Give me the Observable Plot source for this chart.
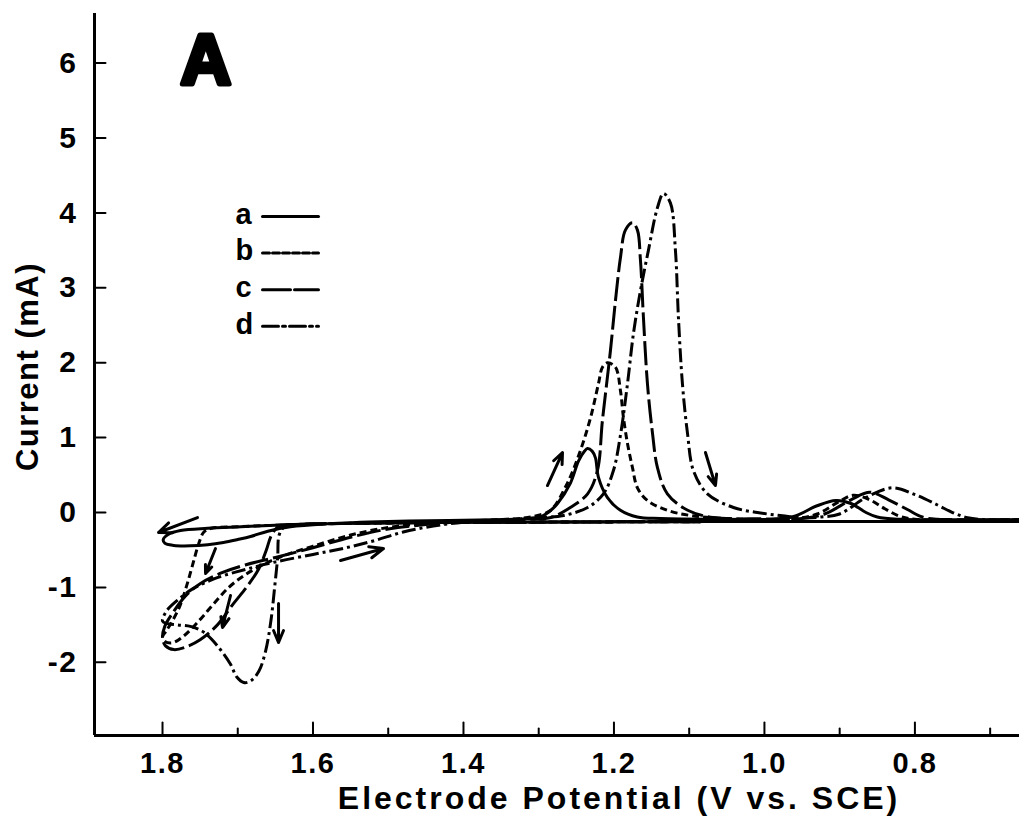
<!DOCTYPE html>
<html><head><meta charset="utf-8">
<script src="https://cdn.jsdelivr.net/npm/d3@7"></script>
<script src="https://cdn.jsdelivr.net/npm/@observablehq/plot@0.6"></script>
<style>
body{margin:0;background:#fff;}
svg text{font-family:"Liberation Sans",Arial,sans-serif;}
</style></head><body><div id="chart"></div>
<script>
// ---- data (V vs. SCE, mA) ----
const seriesKeys = ["a","b","c","d"];

const curveA = [
 [0.661,-0.12],[0.8,-0.12],[1.0,-0.12],[1.2,-0.125],[1.35,-0.13],[1.45,-0.135],[1.55,-0.145],[1.607,-0.155],[1.65,-0.17],[1.696,-0.19],[1.74,-0.21],[1.776,-0.24],[1.792,-0.29],[1.799,-0.36],
 [1.797,-0.41],[1.785,-0.44],[1.763,-0.445],[1.74,-0.43],[1.719,-0.40],[1.70,-0.36],[1.683,-0.32],[1.66,-0.25],[1.63,-0.19],[1.58,-0.15],[1.5,-0.12],[1.42,-0.105],[1.36,-0.095],[1.32,-0.085],[1.298,-0.06],[1.285,0.02],[1.275,0.12],[1.258,0.39],[1.247,0.69],[1.239,0.82],[1.2352,0.854],[1.229,0.82],[1.2246,0.73],[1.2206,0.47],[1.2086,0.2],[1.1914,0.03],[1.169,-0.06],[1.138,-0.08],[1.05,-0.09],[0.99,-0.09],[0.96,-0.05],[0.93,0.09],[0.905,0.16],[0.885,0.12],[0.865,0.0],[0.85,-0.06],[0.82,-0.09],[0.75,-0.095],[0.661,-0.095]
];
const curveB = [
 [0.661,-0.12],[0.8,-0.12],[1.0,-0.12],[1.2,-0.125],[1.35,-0.13],[1.45,-0.135],[1.55,-0.145],[1.65,-0.17],[1.70,-0.19],[1.735,-0.21],[1.745,-0.26],[1.752,-0.42],[1.76,-0.7],[1.768,-0.98],[1.777,-1.25],[1.787,-1.45],[1.795,-1.58],[1.8,-1.66],
 [1.797,-1.72],[1.787,-1.74],[1.772,-1.65],[1.752,-1.45],[1.732,-1.22],[1.712,-1.0],[1.69,-0.83],[1.665,-0.69],[1.64,-0.58],[1.60,-0.45],[1.55,-0.3],[1.5,-0.2],[1.45,-0.145],[1.4,-0.115],[1.35,-0.095],[1.32,-0.075],[1.30,-0.035],[1.284,0.03],[1.262,0.39],[1.2445,0.83],[1.231,1.27],[1.2206,1.72],[1.2153,1.94],[1.2086,2.0],[1.198,1.94],[1.1914,1.63],[1.1874,1.27],[1.182,0.92],[1.1754,0.6],[1.1688,0.33],[1.1555,0.16],[1.129,0.03],[1.098,-0.04],[1.05,-0.08],[0.97,-0.09],[0.93,-0.02],[0.90,0.15],[0.882,0.23],[0.86,0.17],[0.84,0.05],[0.82,-0.05],[0.80,-0.09],[0.661,-0.095]
];
const curveC = [
 [0.661,-0.12],[0.8,-0.12],[1.0,-0.12],[1.2,-0.125],[1.35,-0.13],[1.45,-0.135],[1.55,-0.145],[1.62,-0.16],[1.645,-0.18],[1.655,-0.3],[1.662,-0.5],[1.672,-0.75],[1.687,-0.98],[1.706,-1.22],[1.727,-1.5],[1.75,-1.7],[1.77,-1.8],[1.785,-1.83],[1.796,-1.78],[1.8,-1.68],
 [1.797,-1.52],[1.785,-1.32],[1.77,-1.12],[1.75,-0.95],[1.72,-0.8],[1.69,-0.7],[1.65,-0.6],[1.6,-0.47],[1.55,-0.33],[1.5,-0.22],[1.45,-0.16],[1.4,-0.12],[1.35,-0.1],[1.31,-0.085],[1.284,-0.067],[1.258,0.067],[1.235,0.25],[1.222,0.56],[1.2153,1.23],[1.2047,2.16],[1.198,2.83],[1.1914,3.4],[1.1848,3.77],[1.1754,3.87],[1.1688,3.77],[1.1648,3.37],[1.1608,2.6],[1.1555,1.72],[1.1488,1.06],[1.1422,0.6],[1.129,0.25],[1.102,0.03],[1.068,-0.067],[1.0,-0.085],[0.96,-0.09],[0.92,-0.02],[0.885,0.17],[0.86,0.27],[0.835,0.17],[0.81,0.04],[0.79,-0.06],[0.77,-0.09],[0.661,-0.095]
];
const curveD = [
 [0.661,-0.12],[0.8,-0.12],[1.0,-0.12],[1.2,-0.125],[1.35,-0.13],[1.45,-0.135],[1.55,-0.145],[1.62,-0.16],[1.638,-0.19],[1.645,-0.3],[1.647,-0.6],[1.651,-1.0],[1.656,-1.45],[1.663,-1.85],[1.672,-2.12],[1.683,-2.25],[1.692,-2.27],[1.701,-2.2],[1.71,-2.02],[1.727,-1.78],[1.745,-1.6],[1.763,-1.52],[1.78,-1.5],[1.795,-1.48],[1.8,-1.45],
 [1.795,-1.32],[1.78,-1.17],[1.76,-1.02],[1.73,-0.88],[1.69,-0.76],[1.65,-0.66],[1.6,-0.56],[1.56,-0.48],[1.52,-0.38],[1.48,-0.26],[1.44,-0.18],[1.4,-0.13],[1.35,-0.1],[1.3,-0.07],[1.267,-0.04],[1.235,0.067],[1.214,0.25],[1.2007,0.56],[1.1914,1.03],[1.182,1.72],[1.1741,2.39],[1.1648,2.96],[1.1542,3.5],[1.1422,4.07],[1.1342,4.26],[1.1249,4.13],[1.1183,3.5],[1.1143,2.6],[1.109,1.72],[1.1023,1.06],[1.0944,0.56],[1.0758,0.25],[1.0412,0.067],[1.0093,0.0],[0.979,-0.04],[0.95,-0.07],[0.925,-0.06],[0.90,-0.02],[0.865,0.2],[0.83,0.33],[0.80,0.24],[0.77,0.1],[0.75,0.0],[0.73,-0.07],[0.70,-0.1],[0.661,-0.1]
];

// scan-direction arrows [x1, y1, x2, y2]
const arrowsData = [
 [1.7535,-0.067,1.8053,-0.267],
 [1.7296,-0.481,1.7428,-0.814],
 [1.7096,-1.108,1.7203,-1.535],
 [1.6458,-1.215,1.6458,-1.736],
 [1.5634,-0.641,1.5063,-0.481],
 [1.2884,0.36,1.2684,0.801],
 [1.0784,0.801,1.0651,0.36]
];

const xMajorTicks = [1.8,1.6,1.4,1.2,1.0,0.8];
const xMajorLabels = ["1.8","1.6","1.4","1.2","1.0","0.8"];
const xMinorTicks = [1.7,1.5,1.3,1.1,0.9,0.7];
const yTicks = [-2,-1,0,1,2,3,4,5,6];
const yTickLabels = ["-2","-1","0","1","2","3","4","5","6"];
const xDomain = [1.8904, 0.661];
const yDomain = [-2.977, 6.662];
const xTitle = "Electrode Potential (V vs. SCE)";
const yTitle = "Current (mA)";
const panelLabel = "A";

// ---- styles ----
const dash = {a: null, b: "7,4", c: "24,5", d: "14,4,3,4"};
const legendDash = {a: null, b: "7,3", c: "28,4", d: "16,4,3,4"};
const curves = {a: curveA, b: curveB, c: curveC, d: curveD};
const F = "Liberation Sans, Arial, sans-serif";
const tickShape = {draw(context, l) { context.moveTo(0, 0); context.lineTo(0, -l); }};

const lineMarks = seriesKeys.map(k => Plot.line(curves[k].map(([v, i]) => ({v, i})), {
  x: "v", y: "i", curve: "catmull-rom", stroke: "black", strokeWidth: 3,
  strokeDasharray: dash[k], strokeLinecap: "butt"
}));

const legendMarks = seriesKeys.flatMap((k, idx) => [
  Plot.text([k], {text: d => d, frameAnchor: "top-left", dx: 141, dy: 210 + idx * 36.8,
    lineAnchor: "bottom", textAnchor: "start", fontSize: 29, fontWeight: "bold", fontFamily: F, fill: "black"}),
  Plot.vector([k], {frameAnchor: "top-left", dx: 168, dy: 203 + idx * 36.6, rotate: 90, length: 56,
    anchor: "start", shape: tickShape, stroke: "black", strokeWidth: 3, strokeDasharray: legendDash[k]})
]);

const chart = Plot.plot({
  width: 1019, height: 831,
  marginLeft: 94, marginRight: 0, marginTop: 13, marginBottom: 96,
  x: {domain: xDomain, axis: null},
  y: {domain: yDomain, axis: null},
  style: {fontFamily: F, background: "white"},
  marks: [
    Plot.ruleY([yDomain[0]], {stroke: "black", strokeWidth: 3}),
    Plot.ruleX([xDomain[0]], {stroke: "black", strokeWidth: 3}),
    Plot.vector(xMajorTicks, {x: d => d, frameAnchor: "bottom", rotate: 0, length: 13, anchor: "start", shape: tickShape, stroke: "black", strokeWidth: 2}),
    Plot.vector(xMinorTicks, {x: d => d, frameAnchor: "bottom", rotate: 0, length: 7, anchor: "start", shape: tickShape, stroke: "black", strokeWidth: 2}),
    Plot.vector(yTicks, {y: d => d, frameAnchor: "left", rotate: 90, length: 11, anchor: "start", shape: tickShape, stroke: "black", strokeWidth: 2}),
    Plot.text(xMajorTicks, {x: d => d, text: d => xMajorLabels[xMajorTicks.indexOf(d)], frameAnchor: "bottom",
      dy: 17, lineAnchor: "top", fontSize: 29, fontWeight: "bold", fontFamily: F, fill: "black"}),
    Plot.text(yTicks, {y: d => d, text: d => yTickLabels[yTicks.indexOf(d)], frameAnchor: "left",
      dx: -17, textAnchor: "end", lineAnchor: "middle", fontSize: 30, fontWeight: "bold", fontFamily: F, fill: "black"}),
    Plot.text([xTitle], {text: d => d, frameAnchor: "bottom", dx: 62, dy: 63, lineAnchor: "middle",
      fontSize: 32, fontWeight: "bold", fontFamily: F, fill: "black"}),
    Plot.text([yTitle], {text: d => d, frameAnchor: "left", dx: -66, dy: -8, rotate: -90, lineAnchor: "middle",
      textAnchor: "middle", fontSize: 31, fontWeight: "bold", fontFamily: F, fill: "black"}),
    Plot.text([panelLabel], {text: d => d, frameAnchor: "top-left", dx: 86, dy: 70, textAnchor: "start", lineAnchor: "bottom",
      fontSize: 70, fontWeight: "bold", fontFamily: F, fill: "black", stroke: "black", strokeWidth: 5}),
    ...lineMarks,
    Plot.arrow(arrowsData, {x1: d => d[0], y1: d => d[1], x2: d => d[2], y2: d => d[3],
      stroke: "black", strokeWidth: 3, headLength: 13, headAngle: 45}),
    ...legendMarks
  ]
});

// widen the letter spacing of the (wide-set) original lettering
const spacing = new Map([[xTitle, "3px"], [yTitle, "1.5px"]]);
d3.select(chart).selectAll("text").each(function() {
  const t = this.textContent;
  if (spacing.has(t)) this.style.letterSpacing = spacing.get(t);
  else if (xMajorLabels.includes(t) || yTickLabels.includes(t)) this.style.letterSpacing = "1.5px";
});
document.getElementById("chart").appendChild(chart);
</script>
</body></html>
